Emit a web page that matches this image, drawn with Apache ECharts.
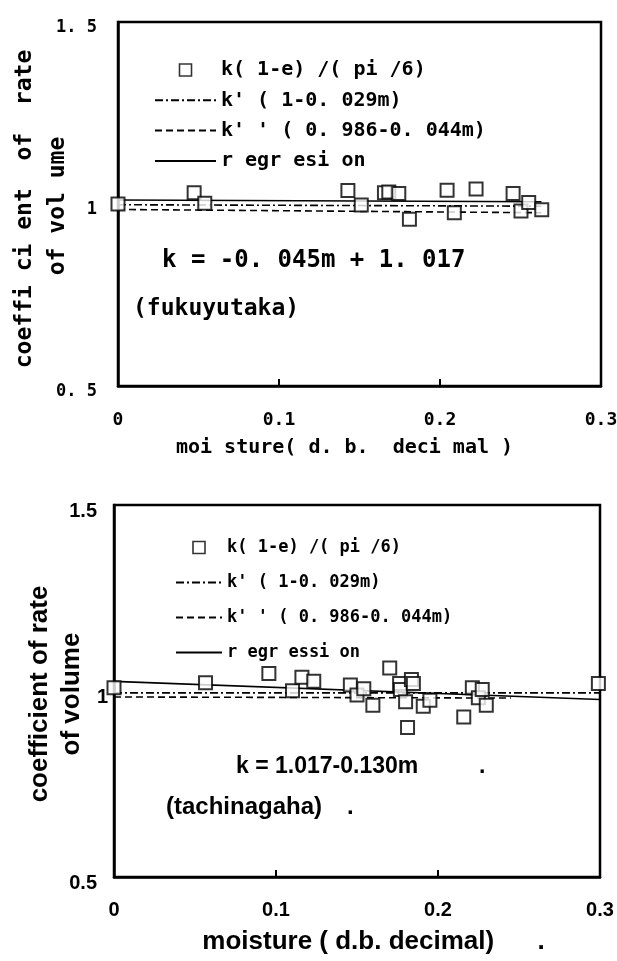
<!DOCTYPE html>
<html>
<head>
<meta charset="utf-8">
<script src="https://cdn.jsdelivr.net/npm/echarts@6/dist/echarts.min.js"></script>
<style>
html,body{margin:0;padding:0;background:#fff;}
#chart{width:617px;height:961px;}
</style>
</head>
<body>
<div id="chart"></div>
<script>
// ---------- data ----------
// top panel (fukuyutaka)
const topPointsX = [0, 0.0473, 0.0539, 0.1428, 0.1511, 0.1655, 0.1682, 0.1744, 0.181, 0.2044, 0.2089, 0.2224, 0.2454, 0.2503, 0.2551, 0.2632];
const topPointsY = [1.000, 1.031, 1.002, 1.037, 0.997, 1.031, 1.033, 1.029, 0.958, 1.038, 0.976, 1.041, 1.029, 0.981, 1.004, 0.984];
const topLineX = [0, 0.263];
const topKprime = [0.998, 0.994];      // k'(1-0.029m)
const topKdouble = [0.985, 0.976];     // k''(0.986-0.044m)
const topRegression = [1.011, 1.006];  // regression

// bottom panel (tachinagaha)
const botPointsX = [0, 0.0565, 0.0956, 0.1102, 0.116, 0.1233, 0.1459, 0.150, 0.1542, 0.1598, 0.1702, 0.1763, 0.1768, 0.180, 0.1812, 0.1836, 0.1848, 0.1909, 0.195, 0.2159, 0.2212, 0.2249, 0.2273, 0.2298, 0.299];
const botPointsY = [1.009, 1.022, 1.047, 1.001, 1.037, 1.026, 1.016, 0.989, 1.006, 0.962, 1.062, 1.020, 1.004, 0.971, 0.902, 1.031, 1.020, 0.959, 0.975, 0.930, 1.009, 0.982, 1.004, 0.962, 1.020];
const botKprimeX = [0, 0.3];
const botKprime = [0.995, 0.995];
const botKdoubleX = [0, 0.245];
const botKdouble = [0.984, 0.981];
const botRegX = [0, 0.3];
const botRegression = [1.026, 0.977];

// tick labels
const topXTicks = ["0", "0.1", "0.2", "0.3"];
const topYTicks = ["0. 5", "1", "1. 5"];
const botXTicks = ["0", "0.1", "0.2", "0.3"];
const botYTicks = ["0.5", "1", "1.5"];

// series names
const topNames = ["k( 1-e) /( pi /6)", "k' ( 1-0. 029m)", "k' ' ( 0. 986-0. 044m)", "r egr esi on"];
const botNames = ["k( 1-e) /( pi /6)", "k' ( 1-0. 029m) ", "k' ' ( 0. 986-0. 044m) ", "r egr essi on"];

// axis titles
const topYTitle = ["coeffi ci ent  of  rate", "of vol ume"];
const botYTitle = ["coefficient of rate", "of volume"];

// ---------- build ----------
const MONO = "'DejaVu Sans Mono', monospace";
const SANS = "'Liberation Sans', Arial, sans-serif";
const zip = (xs, ys) => xs.map((x, i) => [x, ys[i]]);

const chart = echarts.init(document.getElementById('chart'), null, {renderer: 'canvas'});

function xAxisFor(gridIndex, ticks, font, size, margin, name, nameSize, nameGap, namePad) {
  return {
    type: 'value', gridIndex, min: 0, max: 0.3, interval: 0.1,
    axisLine: {show: true, lineStyle: {color: '#000', width: 2.5}},
    axisTick: {show: true, inside: true, length: 7, lineStyle: {color: '#000', width: 2}},
    splitLine: {show: false},
    axisLabel: {
      color: '#000', fontFamily: font, fontSize: size, fontWeight: 'bold', margin,
      showMinLabel: true, showMaxLabel: true, hideOverlap: false,
      formatter: v => ticks[Math.round(v / 0.1)]
    },
    name, nameLocation: 'middle', nameGap,
    nameTextStyle: {color: '#000', fontFamily: font, fontSize: nameSize, fontWeight: 'bold',
      verticalAlign: 'middle', align: 'center', padding: namePad}
  };
}
// y labels: "1" sits a little closer to the axis than "0.5"/"1.5" (extra right padding on the others)
function yAxisFor(gridIndex, ticks, font, size, margin, padTop, padOuter) {
  const base = {color: '#000', fontFamily: font, fontSize: size, fontWeight: 'bold'};
  return {
    type: 'value', gridIndex, min: 0.5, max: 1.5, interval: 0.5,
    axisLine: {show: true, lineStyle: {color: '#000', width: 2.5}},
    axisTick: {show: false},
    splitLine: {show: false},
    axisLabel: {
      ...base, margin,
      formatter: v => {
        const i = Math.round((v - 0.5) / 0.5);
        return (i === 1 ? '{one|' : '{end|') + ticks[i] + '}';
      },
      rich: {
        one: {...base, padding: [padTop, 0, 0, 0]},
        end: {...base, padding: [padTop, padOuter, 0, 0]}
      }
    }
  };
}

function seriesFor(idx, names, pts, lines) {
  return [
    {
      name: names[0], type: 'scatter', xAxisIndex: idx, yAxisIndex: idx, z: 5,
      symbol: 'rect', symbolSize: 13,
      itemStyle: {color: '#fff', borderColor: '#000', borderWidth: 2},
      data: pts
    },
    {
      name: names[1], type: 'line', xAxisIndex: idx, yAxisIndex: idx, z: 3, symbol: 'none',
      itemStyle: {color: '#000'},
      lineStyle: {color: '#000', width: 1.6, type: [8, 3, 2, 3]},
      data: lines[0]
    },
    {
      name: names[2], type: 'line', xAxisIndex: idx, yAxisIndex: idx, z: 3, symbol: 'none',
      itemStyle: {color: '#000'},
      lineStyle: {color: '#000', width: 1.6, type: [7, 4]},
      data: lines[1]
    },
    {
      name: names[3], type: 'line', xAxisIndex: idx, yAxisIndex: idx, z: 3, symbol: 'none',
      itemStyle: {color: '#000'},
      lineStyle: {color: '#000', width: 1.6, type: 'solid'},
      data: lines[2]
    }
  ];
}

// legend square icon: a 12x12 box centred in the item width (degenerate end points set the box width)
function squareIcon(w) {
  const a = (w - 12) / 2, b = a + 12;
  return 'path://M0,6L0.001,6M' + a + ',0L' + b + ',0L' + b + ',12L' + a + ',12Z M' + w + ',6L' + (w - 0.001) + ',6';
}

function legendFor(names, left, top, itemWidth, fontSize, gap) {
  const hidden = {color: 'rgba(0,0,0,0)', borderColor: 'rgba(0,0,0,0)', borderWidth: 0};
  return {
    orient: 'vertical', left, top, itemWidth, itemHeight: 12, itemGap: gap,
    selectedMode: false,
    textStyle: {color: '#000', fontFamily: MONO, fontSize, fontWeight: 'bold', lineHeight: fontSize},
    data: [
      {name: names[0], icon: squareIcon(itemWidth), itemStyle: {color: '#fff', borderColor: '#000', borderWidth: 1.6}},
      {name: names[1], itemStyle: hidden},
      {name: names[2], itemStyle: hidden},
      {name: names[3], itemStyle: hidden}
    ]
  };
}

function vText(text, x, y, font) {
  return {type: 'text', x, y, rotation: Math.PI / 2,
    style: {text, fill: '#000', font, align: 'center', verticalAlign: 'middle'}};
}

const option = {
  backgroundColor: '#fff',
  animation: false,
  grid: [
    {left: 118, top: 22, width: 483, height: 364, outerBoundsMode: 'none', containLabel: false,
     show: true, borderColor: '#000', borderWidth: 2.5, backgroundColor: 'transparent'},
    {left: 114, top: 505, width: 486, height: 372, outerBoundsMode: 'none', containLabel: false,
     show: true, borderColor: '#000', borderWidth: 2.5, backgroundColor: 'transparent'}
  ],
  xAxis: [
    xAxisFor(0, topXTicks, MONO, 18, 25, 'moi sture( d. b.  deci mal )', 20, 62, [0, 30, 0, 0]),
    xAxisFor(1, botXTicks, SANS, 20, 23, 'moisture ( d.b. decimal)      .', 26, 65, [0, 0, 0, 33])
  ],
  yAxis: [
    yAxisFor(0, topYTicks, MONO, 17, 21, 12, 0),
    yAxisFor(1, botYTicks, SANS, 20, 6, 12, 11)
  ],
  legend: [
    legendFor(topNames, 149, 55, 61, 20, 10.3),
    legendFor(botNames, 170, 534, 46, 17, 18)
  ],
  series: [
    ...seriesFor(0, topNames, zip(topPointsX, topPointsY),
      [zip(topLineX, topKprime), zip(topLineX, topKdouble), zip(topLineX, topRegression)]),
    ...seriesFor(1, botNames, zip(botPointsX, botPointsY),
      [zip(botKprimeX, botKprime), zip(botKdoubleX, botKdouble), zip(botRegX, botRegression)])
  ],
  graphic: [
    vText(topYTitle[0], 25, 209, "bold 23px 'DejaVu Sans Mono', monospace"),
    vText(topYTitle[1], 58, 206, "bold 23px 'DejaVu Sans Mono', monospace"),
    vText(botYTitle[0], 40, 694, "bold 26px 'Liberation Sans', Arial, sans-serif"),
    vText(botYTitle[1], 72, 694, "bold 26px 'Liberation Sans', Arial, sans-serif"),
    {type: 'text', left: 162, top: 249, style: {text: 'k = -0. 045m + 1. 017', fill: '#000', font: "bold 24px 'DejaVu Sans Mono', monospace"}},
    {type: 'text', left: 133, top: 298, style: {text: '(fukuyutaka)', fill: '#000', font: "bold 23px 'DejaVu Sans Mono', monospace"}},
    {type: 'text', left: 236, top: 755, style: {text: 'k = 1.017-0.130m', fill: '#000', font: "bold 23px 'Liberation Sans', Arial, sans-serif"}},
    {type: 'text', left: 479, top: 755, style: {text: '.', fill: '#000', font: "bold 23px 'Liberation Sans', Arial, sans-serif"}},
    {type: 'text', left: 166, top: 795, style: {text: '(tachinagaha)', fill: '#000', font: "bold 24px 'Liberation Sans', Arial, sans-serif"}},
    {type: 'text', left: 347, top: 795, style: {text: '.', fill: '#000', font: "bold 24px 'Liberation Sans', Arial, sans-serif"}}
  ]
};
chart.setOption(option);
</script>
</body>
</html>
